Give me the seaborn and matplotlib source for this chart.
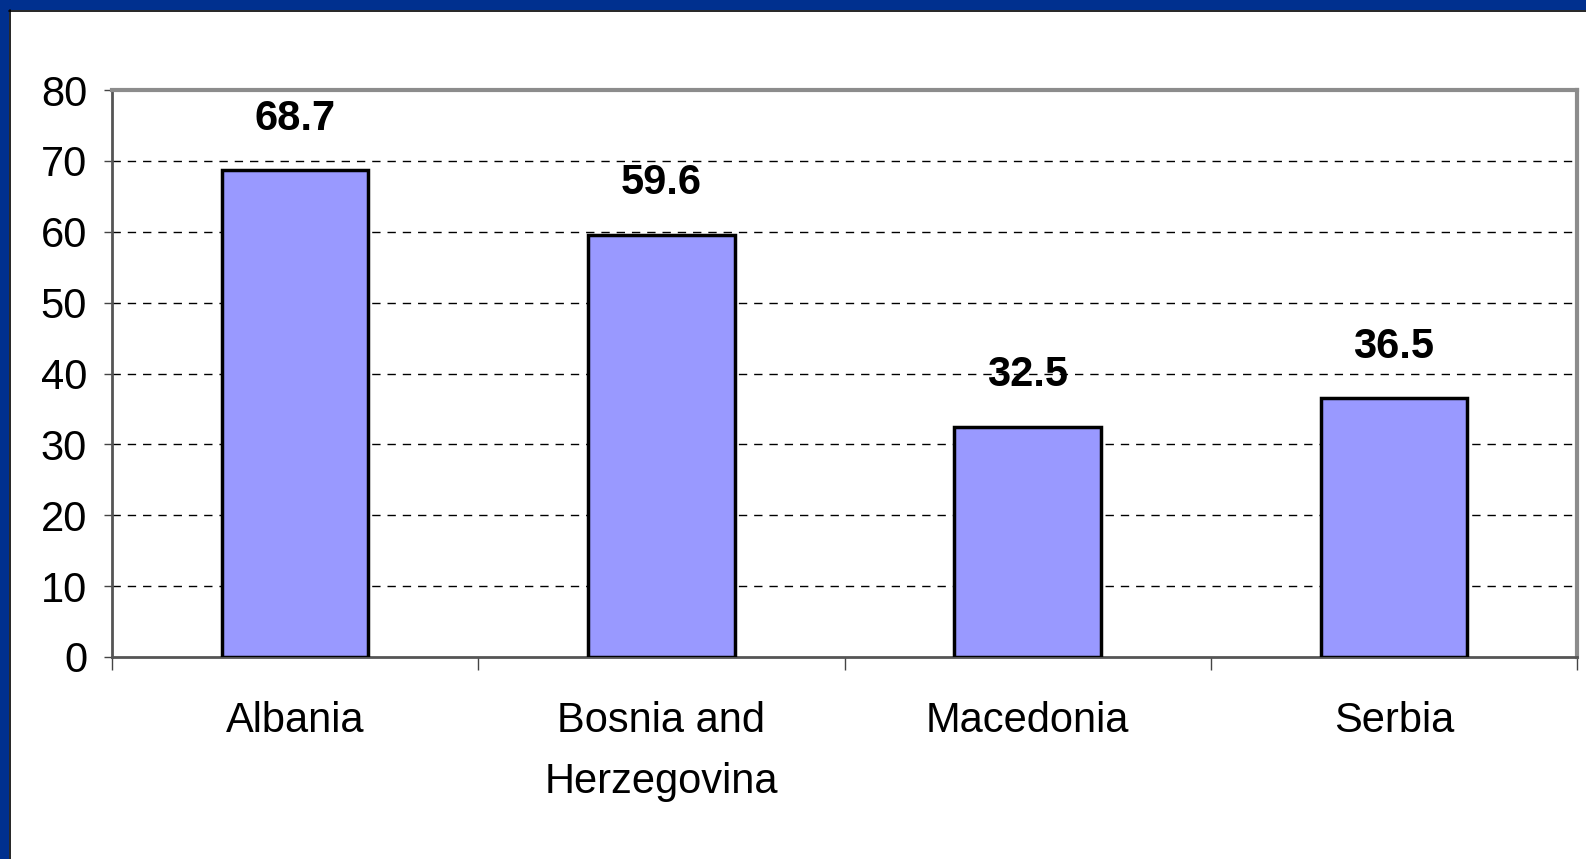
import matplotlib
matplotlib.use("Agg")
import matplotlib.pyplot as plt
from matplotlib import font_manager
from matplotlib.patches import Rectangle
import seaborn as sns

categories = ["Albania", "Bosnia and\nHerzegovina", "Macedonia", "Serbia"]
values = [68.7, 59.6, 32.5, 36.5]
value_labels = ["68.7", "59.6", "32.5", "36.5"]
yticks = [0, 10, 20, 30, 40, 50, 60, 70, 80]

names = {f.name for f in font_manager.fontManager.ttflist}
fam = "Liberation Sans Narrow" if "Liberation Sans Narrow" in names else "Liberation Sans"

sns.set_theme(style="white")
plt.rcParams["font.family"] = [fam, "DejaVu Sans"]
plt.rcParams["text.color"] = "black"
plt.rcParams["xtick.labelcolor"] = "black"
plt.rcParams["ytick.labelcolor"] = "black"

W, H = 1586, 859
fig = plt.figure(figsize=(W / 100, H / 100), dpi=100)
ax = fig.add_axes([112 / W, 1 - 657 / H, (1577 - 112) / W, (657 - 90) / H])

sns.barplot(x=categories, y=values, color="#9999FF", saturation=1, width=0.4,
            edgecolor="black", linewidth=2.5, ax=ax, zorder=3)

ax.set_ylim(0, 80)
ax.set_xlim(-0.5, 3.5)
ax.set_yticks(yticks)
ax.set_yticklabels([str(t) for t in yticks], fontsize=30, color="black")
ax.set_xticks(range(len(categories)))
ax.set_xticklabels(categories, fontsize=30, linespacing=1.65, color="black")
ax.set_xticks([-0.5, 0.5, 1.5, 2.5, 3.5], minor=True)
ax.tick_params(axis="x", which="major", length=0, pad=32)
ax.tick_params(axis="x", which="minor", length=9, width=1, color="#444444", direction="out", bottom=True)
ax.tick_params(axis="y", length=6, width=1, color="#444444", direction="out", left=True, pad=12)
ax.set_xlabel("")
ax.set_ylabel("")

for y in yticks[1:-1]:
    ax.axhline(y, color="black", linestyle=(0, (6, 5)), linewidth=1, zorder=1)

for s in ["top", "right"]:
    ax.spines[s].set_color("#8c8c8c")
    ax.spines[s].set_linewidth(3)
for s in ["left", "bottom"]:
    ax.spines[s].set_color("#555555")
    ax.spines[s].set_linewidth(2)

for i, (v, lab) in enumerate(zip(values, value_labels)):
    ax.annotate(lab, xy=(i, v), xytext=(0, 37), textcoords="offset points",
                ha="center", va="center", fontsize=30, fontweight="bold",
                color="black", zorder=5)

# slide frame: blue band on top and left
fig.patches.append(Rectangle((0, 1 - 10 / H), 1, 10 / H, transform=fig.transFigure,
                             facecolor="#00308F", edgecolor="none", zorder=0))
fig.patches.append(Rectangle((0, 0), 9 / W, 1, transform=fig.transFigure,
                             facecolor="#00308F", edgecolor="none", zorder=0))
fig.add_artist(plt.Line2D([9 / W, 1], [1 - 10.5 / H, 1 - 10.5 / H], transform=fig.transFigure,
                          color="black", linewidth=1.2))
fig.add_artist(plt.Line2D([9.5 / W, 9.5 / W], [0, 1 - 10 / H], transform=fig.transFigure,
                          color="black", linewidth=1.2))

fig.savefig("out.png", dpi=100)
